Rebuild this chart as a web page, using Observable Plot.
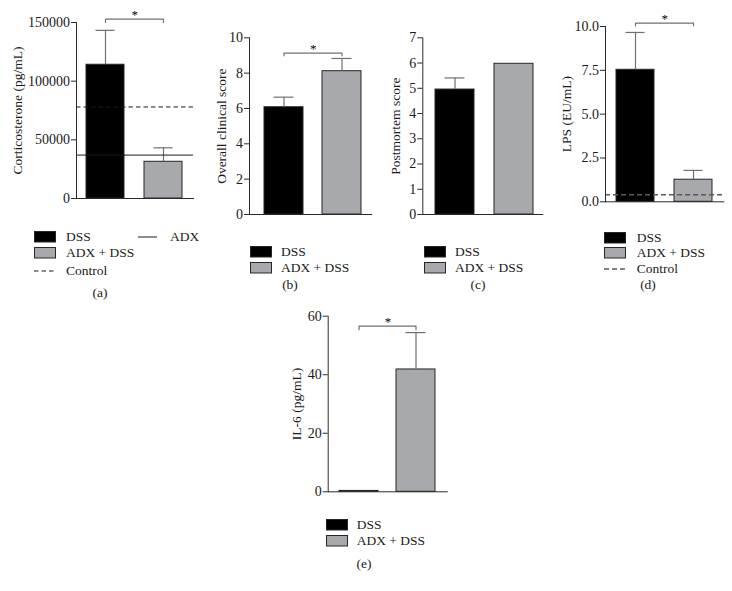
<!DOCTYPE html>
<html><head><meta charset="utf-8">
<script src="https://cdn.jsdelivr.net/npm/d3@7"></script>
<script src="https://cdn.jsdelivr.net/npm/@observablehq/plot@0.6"></script>
<style>
body{margin:0;background:#fff;}
#root{position:relative;width:732px;height:591px;font-family:"Liberation Serif","Times New Roman",serif;color:#1a1a1a;overflow:hidden;background:#fff}
.lt{position:absolute;font-family:"Liberation Serif","Times New Roman",serif;font-size:13.5px;line-height:16px;white-space:nowrap;color:#1a1a1a}
</style></head><body><div id="root"></div>
<script>
// ---- data ----
const groups = ["DSS", "ADX + DSS"];
const refLabels = ["Control", "ADX"];
const significance = "*";
const panelLetters = ["(a)", "(b)", "(c)", "(d)", "(e)"];

const corticoMean = [114000, 31300];
const corticoSem = [29300, 11900];
const corticoControl = [78000];
const corticoADX = [37000];
const corticoTicks = [0, 50000, 100000, 150000];
const corticoBracket = [152800, 150000];

const clinicalMean = [6.07, 8.11];
const clinicalSem = [0.57, 0.72];
const clinicalTicks = [0, 2, 4, 6, 8, 10];
const clinicalBracket = [9.13, 8.98];

const postMean = [4.95, 5.97];
const postSem = [0.46, 0];
const postTicks = [0, 1, 2, 3, 4, 5, 6, 7];

const lpsMean = [7.53, 1.26];
const lpsSem = [2.13, 0.53];
const lpsControl = [0.4];
const lpsTicks = [0, 2.5, 5, 7.5, 10];
const lpsBracket = [10.19, 10.04];

const il6Mean = [0.3, 41.8];
const il6Sem = [0, 12.6];
const il6Ticks = [0, 20, 40, 60];
const il6Bracket = [56.6, 55.4];

// ---- drawing ----
const root = document.getElementById("root");
const FONT = '"Liberation Serif", "Times New Roman", serif';
const AX = "#2a2a2a", ERR = "#707070", GRAY = "#a8a9ad";

function addAt(el, left, top) {
  el.style.position = "absolute";
  el.style.left = left + "px";
  el.style.top = top + "px";
  root.appendChild(el);
}

function panel(c) {
  const data = groups.map((g, i) => ({group: g, mean: c.mean[i], sem: c.sem[i]}));
  const err = data.filter(d => d.sem > 0);
  const marks = [
    Plot.barY(data, {x: "group", y: "mean", fill: "group", stroke: "#262626", strokeWidth: 1}),
    Plot.ruleX(err, {x: "group", y1: "mean", y2: d => d.mean + d.sem, stroke: ERR, strokeWidth: 1.2}),
    Plot.tickY(err, {x: "group", y: d => d.mean + d.sem, stroke: ERR, strokeWidth: 1.2, insetLeft: c.cap, insetRight: c.cap})
  ];
  for (const r of (c.refs || [])) {
    marks.push(Plot.ruleY(r.values, {stroke: r.stroke, strokeWidth: r.width, strokeDasharray: r.dash}));
  }
  if (c.bracket) {
    const [top, low] = c.bracket;
    marks.push(Plot.line([[groups[0], low], [groups[0], top], [groups[1], top], [groups[1], low]],
      {x: d => d[0], y: d => d[1], stroke: ERR, strokeWidth: 1.2}));
    marks.push(Plot.text([significance], {x: () => groups[0], y: () => top, text: d => d, dx: c.step / 2, dy: -4.5, fontSize: 13, fill: "#000000", stroke: "none"}));
  }
  marks.push(Plot.frame({anchor: "left", stroke: AX}));
  marks.push(Plot.frame({anchor: "bottom", stroke: AX}));
  marks.push(Plot.axisY({ticks: c.ticks, tickFormat: c.fmt, tickSize: 5, tickPadding: 1.5, label: null, stroke: AX, fill: "#1a1a1a", fontSize: 14}));
  marks.push(Plot.text([c.label], {frameAnchor: "left", text: d => d, rotate: -90, dx: -c.labelOff, textAnchor: "middle", lineAnchor: "middle", fontSize: 13.5, fill: "#1a1a1a"}));
  const svg = Plot.plot({
    width: c.width, height: c.height,
    marginLeft: c.m[0], marginRight: c.m[1], marginTop: c.m[2], marginBottom: c.m[3],
    x: {domain: groups, paddingInner: c.pi, paddingOuter: c.po, align: c.align, axis: null},
    y: {domain: c.domain},
    color: {domain: groups, range: ["#000000", GRAY]},
    style: {fontFamily: FONT, fontSize: "13px", color: "#1a1a1a", background: "transparent", overflow: "visible"},
    marks
  });
  addAt(svg, c.left, c.top);
}

const NS = "http://www.w3.org/2000/svg";
function swatch(kind, x, cy, opts = {}) {
  const s = document.createElementNS(NS, "svg");
  s.setAttribute("width", 24); s.setAttribute("height", 14);
  s.style.position = "absolute"; s.style.left = (x - 1) + "px"; s.style.top = (cy - 7) + "px";
  if (kind === "box") {
    const r = document.createElementNS(NS, "rect");
    r.setAttribute("x", 1.5); r.setAttribute("y", 1.5); r.setAttribute("width", 21); r.setAttribute("height", 10.5);
    r.setAttribute("fill", opts.fill); r.setAttribute("stroke", "#262626");
    s.appendChild(r);
  } else {
    const l = document.createElementNS(NS, "line");
    l.setAttribute("x1", 1); l.setAttribute("x2", opts.len || 23); l.setAttribute("y1", 7); l.setAttribute("y2", 7);
    l.setAttribute("stroke", opts.stroke || "#1a1a1a"); l.setAttribute("stroke-width", opts.width || 1);
    if (opts.dash) l.setAttribute("stroke-dasharray", opts.dash);
    s.appendChild(l);
  }
  root.appendChild(s);
}
function text(str, x, cy, center) {
  const d = document.createElement("div");
  d.className = "lt"; d.textContent = str;
  d.style.top = (cy - 8) + "px";
  if (center) { d.style.left = (x - 50) + "px"; d.style.width = "100px"; d.style.textAlign = "center"; }
  else d.style.left = x + "px";
  root.appendChild(d);
}
function legend(sx, tx, rows) {
  for (const r of rows) {
    swatch(r.kind, sx, r.y, r.opts);
    text(r.label, tx, r.y);
  }
}

const fmtInt = d => String(d);

// (a)
panel({left: 0, top: 0, width: 200, height: 215, m: [76, 7, 22, 17],
  domain: [0, 150000], ticks: corticoTicks, fmt: fmtInt, mean: corticoMean, sem: corticoSem,
  pi: 0.342, po: 0.171, align: 0.5, step: 58.5, cap: 9.5,
  label: "Corticosterone (pg/mL)", labelOff: 59,
  refs: [{values: corticoControl, stroke: "#1a1a1a", width: 1, dash: "4.5,3"},
         {values: corticoADX, stroke: "#1a1a1a", width: 1}],
  bracket: corticoBracket});
// (b)
panel({left: 195, top: 0, width: 185, height: 230, m: [54, 9, 37.3, 16],
  domain: [0, 10], ticks: clinicalTicks, fmt: fmtInt, mean: clinicalMean, sem: clinicalSem,
  pi: 0.332, po: 0.21, align: 0.59, step: 58.4, cap: 9.5,
  label: "Overall clinical score", labelOff: 28, bracket: clinicalBracket});
// (c)
panel({left: 380, top: 0, width: 170, height: 230, m: [42.3, 7.7, 37.3, 16],
  domain: [0, 7], ticks: postTicks, fmt: fmtInt, mean: postMean, sem: postSem,
  pi: 0.339, po: 0.186, align: 0.57, step: 59, cap: 9.5,
  label: "Postmortem score", labelOff: 27.3});
// (d)
panel({left: 545, top: 0, width: 187, height: 215, m: [60, 8.7, 26, 13.7],
  domain: [0, 10], ticks: lpsTicks, fmt: d3.format(".1f"), mean: lpsMean, sem: lpsSem,
  pi: 0.343, po: 0.186, align: 0.5, step: 58.3, cap: 9.5,
  label: "LPS (EU/mL)", labelOff: 39,
  refs: [{values: lpsControl, stroke: "#5a5a5a", width: 1.5, dash: "5,3"}],
  bracket: lpsBracket});
// (e)
panel({left: 285, top: 300, width: 170, height: 205, m: [42.7, 8.3, 15.7, 13.7],
  domain: [0, 60], ticks: il6Ticks, fmt: fmtInt, mean: il6Mean, sem: il6Sem,
  pi: 0.322, po: 0.187, align: 0.49, step: 58, cap: 9.5,
  label: "IL-6 (pg/mL)", labelOff: 31.7, bracket: il6Bracket});

// legends
const boxDSS = {kind: "box", opts: {fill: "#000000"}};
const boxADX = {kind: "box", opts: {fill: GRAY}};
legend(34, 66, [
  {...boxDSS, y: 237, label: groups[0]},
  {...boxADX, y: 253, label: groups[1]},
  {kind: "line", opts: {dash: "4.5,3", len: 23}, y: 270.5, label: refLabels[0]}
]);
legend(138, 170, [{kind: "line", opts: {len: 20}, y: 237, label: refLabels[1]}]);
legend(250, 281, [{...boxDSS, y: 252, label: groups[0]}, {...boxADX, y: 268, label: groups[1]}]);
legend(424.3, 455, [{...boxDSS, y: 252, label: groups[0]}, {...boxADX, y: 268, label: groups[1]}]);
legend(604.3, 636.7, [
  {...boxDSS, y: 237.5, label: groups[0]},
  {...boxADX, y: 253.3, label: groups[1]},
  {kind: "line", opts: {dash: "5,3", stroke: "#5a5a5a", width: 1.5, len: 23}, y: 268.5, label: refLabels[0]}
]);
legend(325.7, 356.7, [{...boxDSS, y: 525, label: groups[0]}, {...boxADX, y: 541.3, label: groups[1]}]);

text(panelLetters[0], 100, 293, true);
text(panelLetters[1], 290, 285, true);
text(panelLetters[2], 478, 285, true);
text(panelLetters[3], 648, 285, true);
text(panelLetters[4], 364, 564, true);
</script></body></html>
